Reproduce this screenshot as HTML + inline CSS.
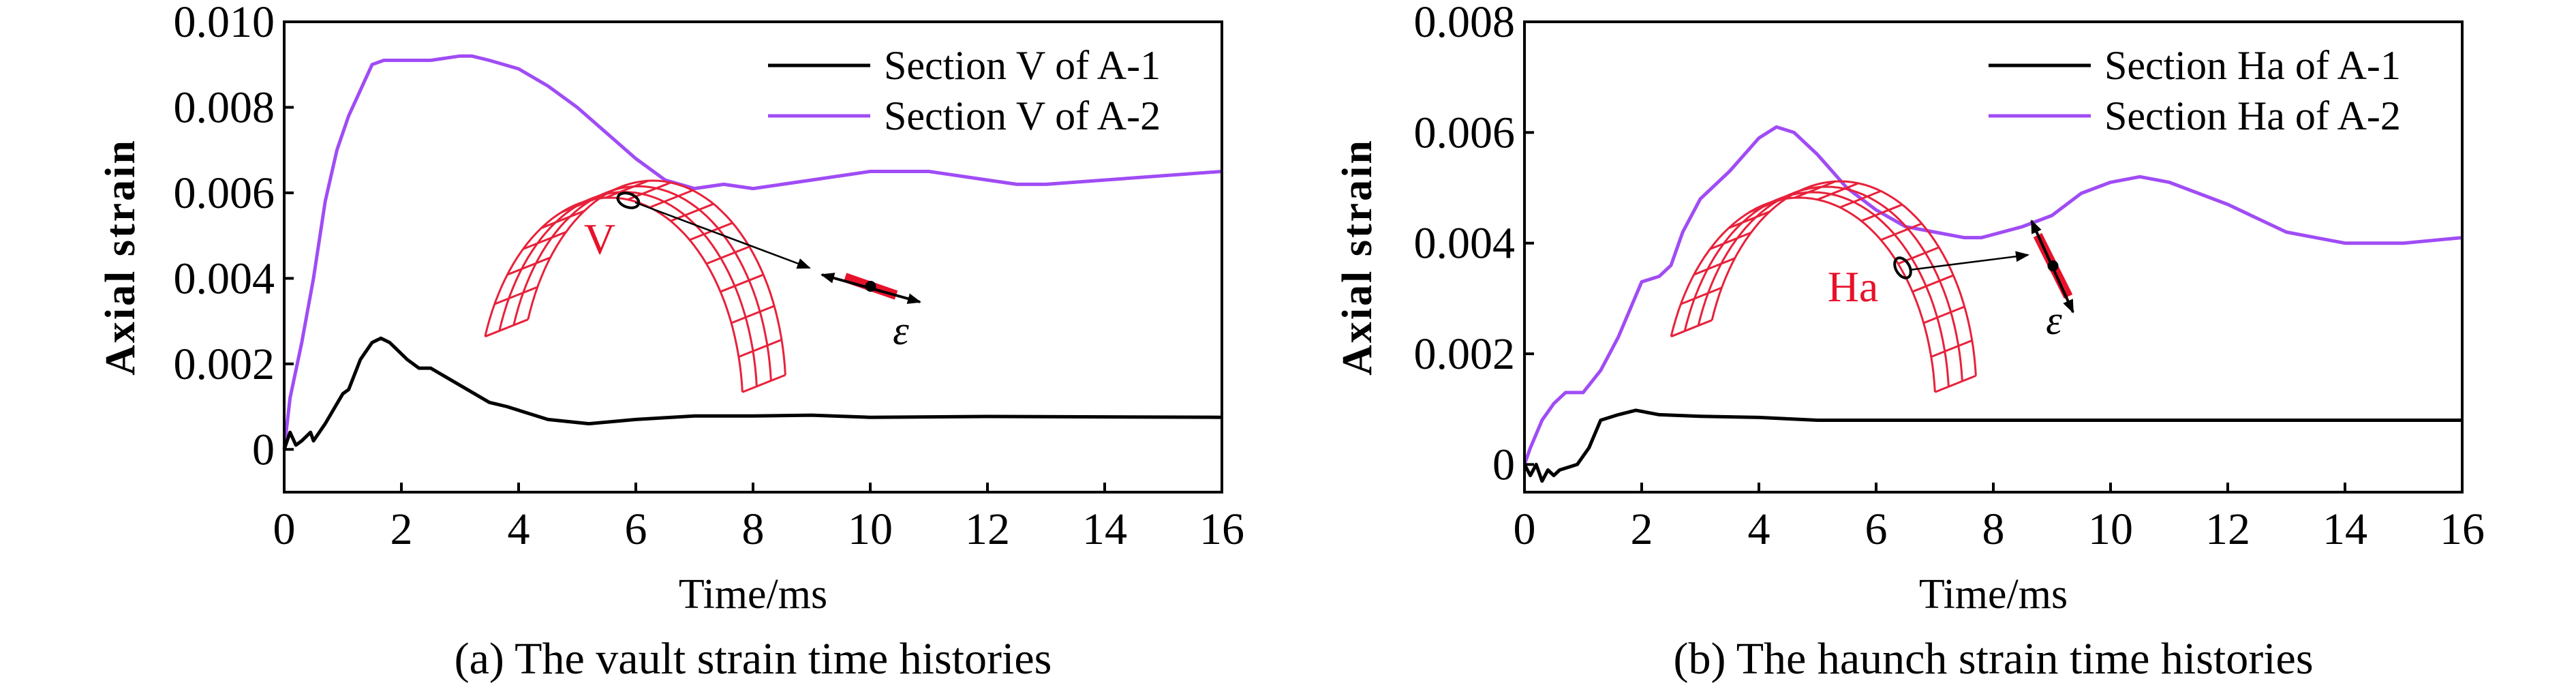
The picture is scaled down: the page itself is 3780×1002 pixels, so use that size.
<!DOCTYPE html>
<html><head><meta charset="utf-8"><style>
html,body{margin:0;padding:0;background:#fff;}
svg{display:block;}
text{font-family:"Liberation Serif",serif;fill:#000;}
</style></head><body>
<svg id="fig" width="3780" height="1002" viewBox="0 0 3780 1002" xmlns="http://www.w3.org/2000/svg"></svg>
<script>
// ---- data: panel (a) vault
const vaultTimeA1 = [0,0.1,0.2,0.3,0.45,0.5,0.7,1,1.1,1.3,1.5,1.65,1.8,2.1,2.3,2.5,3,3.5,3.8,4.5,5.2,6,7,8,9,10,12,14,16];
const vaultA1 = [0,0.0004,0.0001,0.0002,0.0004,0.0002,0.0006,0.0013,0.0014,0.0021,0.0025,0.0026,0.0025,0.0021,0.0019,0.0019,0.0015,0.0011,0.001,0.0007,0.0006,0.0007,0.00078,0.00078,0.0008,0.00075,0.00077,0.00076,0.00075];
const vaultTimeA2 = [0,0.1,0.3,0.5,0.7,0.9,1.1,1.3,1.5,1.7,2,2.5,3,3.2,3.5,4,4.5,5,5.5,6,6.5,7,7.5,8,8.5,9,10,11,12,12.5,13,14,15,16];
const vaultA2 = [0,0.0012,0.0025,0.004,0.0058,0.007,0.0078,0.0084,0.009,0.0091,0.0091,0.0091,0.0092,0.0092,0.0091,0.0089,0.0085,0.008,0.0074,0.0068,0.0063,0.0061,0.0062,0.0061,0.0062,0.0063,0.0065,0.0065,0.0063,0.0062,0.0062,0.0063,0.0064,0.0065];
// ---- data: panel (b) haunch
const haunchTimeA1 = [0,0.1,0.2,0.3,0.4,0.5,0.6,0.9,1.1,1.3,1.6,1.9,2.3,3,4,5,6,8,10,12,14,16];
const haunchA1 = [0,-0.0002,0,-0.0003,-0.0001,-0.0002,-0.0001,0,0.0003,0.0008,0.0009,0.00098,0.0009,0.00087,0.00085,0.0008,0.0008,0.0008,0.0008,0.0008,0.0008,0.0008];
const haunchTimeA2 = [0,0.1,0.3,0.5,0.7,1,1.3,1.6,1.8,2,2.3,2.5,2.7,3,3.5,4,4.3,4.6,5,5.5,6,6.5,7,7.5,7.8,8.5,9,9.5,10,10.5,11,12,13,14,15,16];
const haunchA2 = [0,0.0003,0.0008,0.0011,0.0013,0.0013,0.0017,0.0023,0.0028,0.0033,0.0034,0.0036,0.0042,0.0048,0.0053,0.0059,0.0061,0.006,0.0056,0.005,0.0046,0.0043,0.0042,0.0041,0.0041,0.0043,0.0045,0.0049,0.0051,0.0052,0.0051,0.0047,0.0042,0.004,0.004,0.0041];
const xTicks = [0,2,4,6,8,10,12,14,16];
const yTicksA = [0,0.002,0.004,0.006,0.008,0.010];
const yTickLabelsA = ["0","0.002","0.004","0.006","0.008","0.010"];
const yTicksB = [0,0.002,0.004,0.006,0.008];
const yTickLabelsB = ["0","0.002","0.004","0.006","0.008"];

const NS="http://www.w3.org/2000/svg";
const svg=document.getElementById('fig');
function mk(tag,attrs,parent){const e=document.createElementNS(NS,tag);for(const k in attrs)e.setAttribute(k,attrs[k]);(parent||svg).appendChild(e);return e;}
const PURPLE="#a04cf5";

function panel(cfg){
  const g=mk('g',{});
  
  
  const L=cfg.L,R=cfg.R,T=32,B=722;
  const sx=v=>L+(v-0)/(16-0)*(R-L);
  const sy=v=>B-(v-cfg.ymin)/(cfg.ymax-cfg.ymin)*(B-T);
  const series=[[cfg.t2,cfg.v2,PURPLE,'series-a2'],[cfg.t1,cfg.v1,'#000','series-a1']];
  for(const [t,v,c,n] of series){
    const p=mk('path',{d:t.map((x,i)=>(i?'L':'M')+sx(x).toFixed(1)+','+sy(v[i]).toFixed(1)).join(''),fill:'none',stroke:c,'stroke-width':5,'stroke-linejoin':'round'},g);
    
    
  }
  const fr=mk('rect',{x:L,y:T,width:R-L,height:B-T,fill:'none',stroke:'#000','stroke-width':4},g);
  
  
  xTicks.forEach(v=>{
    mk('line',{x1:sx(v),x2:sx(v),y1:B,y2:B-14,stroke:'#000','stroke-width':4},g);
    const tx=mk('text',{x:sx(v),y:798,'font-size':66,'text-anchor':'middle'},g);tx.textContent=v;
    
    
  });
  cfg.yt.forEach((v,i)=>{
    mk('line',{x1:L,x2:L+14,y1:sy(v),y2:sy(v),stroke:'#000','stroke-width':4},g);
    const tx=mk('text',{x:L-14,y:sy(v)+22,'font-size':66,'text-anchor':'end'},g);tx.textContent=cfg.yl[i];
    
    
  });
  const xt=mk('text',{x:(L+R)/2,y:892,'font-size':62,'text-anchor':'middle'},g);xt.textContent='Time/ms';
  
  
  const yt=mk('text',{x:0,y:0,'font-size':62,'font-weight':'bold','letter-spacing':3,'text-anchor':'middle',transform:`translate(${cfg.yx},377) rotate(-90)`},g);yt.textContent='Axial strain';
  
  
  const cap=mk('text',{x:(L+R)/2,y:988,'font-size':66,'text-anchor':'middle'},g);cap.textContent=cfg.caption;
  
  
  [[96,'#000',cfg.leg[0]],[170,PURPLE,cfg.leg[1]]].forEach(([y,c,s])=>{
    const le=mk('g',{},g);
    
    
    mk('line',{x1:cfg.lx,x2:cfg.lx+150,y1:y,y2:y,stroke:c,'stroke-width':5},le);
    const t=mk('text',{x:cfg.lx+170,y:y+20,'font-size':60},le);t.textContent=s;
  });
  const a=cfg.arch; const ag=mk('g',{fill:'none',stroke:'#e8213a','stroke-width':3},g);
  
  
  const th0=0.08, th1=Math.PI-0.35;
  const P=(th,t)=>[a.cx+a.rx*Math.cos(th)+t*a.dx, a.cy-a.ry*Math.sin(th)+t*a.dy];
  for(let k=0;k<=3;k++){const t=k/3;let d='';for(let i=0;i<=60;i++){const th=th0+(th1-th0)*i/60;const p=P(th,t);d+=(i?'L':'M')+p[0].toFixed(1)+','+p[1].toFixed(1);}mk('path',{d},ag);}
  for(let i=0;i<=16;i++){const th=th0+(th1-th0)*i/16;const p0=P(th,0),p1=P(th,1);mk('line',{x1:p0[0],y1:p0[1],x2:p1[0],y2:p1[1]},ag);}
  const lab=mk('text',{x:a.lbx,y:a.lby,'font-size':64,'text-anchor':'middle',style:'fill:#e8112a'},g);lab.textContent=a.lab;
  
  
  mk('ellipse',{cx:a.ex,cy:a.ey,rx:16,ry:10,transform:`rotate(${a.erot} ${a.ex} ${a.ey})`,fill:'none',stroke:'#000','stroke-width':4},g);
  mk('line',{x1:a.ex+10,y1:a.ey+3,x2:a.ax,y2:a.ay,stroke:'#000','stroke-width':2.5,'marker-end':'url(#ah)'},g);
  mk('line',{x1:a.s1x,y1:a.s1y,x2:a.s2x,y2:a.s2y,stroke:'#e8112a','stroke-width':14,'stroke-linecap':'butt'},g);
  mk('line',{x1:a.d1x,y1:a.d1y,x2:a.d2x,y2:a.d2y,stroke:'#000','stroke-width':4,'marker-end':'url(#ah)','marker-start':'url(#ah2)'},g);
  mk('circle',{cx:(a.s1x+a.s2x)/2,cy:(a.s1y+a.s2y)/2,r:8,fill:'#000'},g);
  const ep=mk('text',{x:a.epx,y:a.epy,'font-size':60,'font-style':'italic','text-anchor':'middle'},g);ep.textContent='ε';
  
  
}
const defs=mk('defs',{});
const m1=mk('marker',{id:'ah',viewBox:'0 0 10 8',markerWidth:20,markerHeight:16,refX:9,refY:4,orient:'auto',markerUnits:'userSpaceOnUse'},defs);
mk('path',{d:'M0,0L10,4L0,8Z',fill:'#000'},m1);
const m2=mk('marker',{id:'ah2',viewBox:'0 0 10 8',markerWidth:20,markerHeight:16,refX:1,refY:4,orient:'auto',markerUnits:'userSpaceOnUse'},defs);
mk('path',{d:'M10,0L0,4L10,8Z',fill:'#000'},m2);

panel({name:'vault-panel',L:417,R:1793,ymin:-0.001,ymax:0.010,yt:yTicksA,yl:yTickLabelsA,t1:vaultTimeA1,v1:vaultA1,t2:vaultTimeA2,v2:vaultA2,yx:197,lx:1127,
  leg:['Section V of A-1','Section V of A-2'],caption:'(a) The vault strain time histories',
  arch:{cx:895,cy:600,rx:195,ry:310,dx:63,dy:-25,lab:'V',lbx:880,lby:372,ex:922,ey:294,erot:20,ax:1188,ay:393,
    s1x:1240,s1y:407,s2x:1315,s2y:433,d1x:1206,d1y:403,d2x:1350,d2y:443,epx:1322,epy:505}});
panel({name:'haunch-panel',L:2237,R:3613,ymin:-0.0005,ymax:0.008,yt:yTicksB,yl:yTickLabelsB,t1:haunchTimeA1,v1:haunchA1,t2:haunchTimeA2,v2:haunchA2,yx:2012,lx:2918,
  leg:['Section Ha of A-1','Section Ha of A-2'],caption:'(b) The haunch strain time histories',
  arch:{cx:2640,cy:600,rx:200,ry:310,dx:60,dy:-24,lab:'Ha',lbx:2719,lby:442,ex:2792,ey:393,erot:60,ax:2976,ay:374,
    s1x:2990,s1y:345,s2x:3035,s2y:435,d1x:2981,d1y:324,d2x:3042,d2y:458,epx:3014,epy:490}});
</script>
</body></html>
